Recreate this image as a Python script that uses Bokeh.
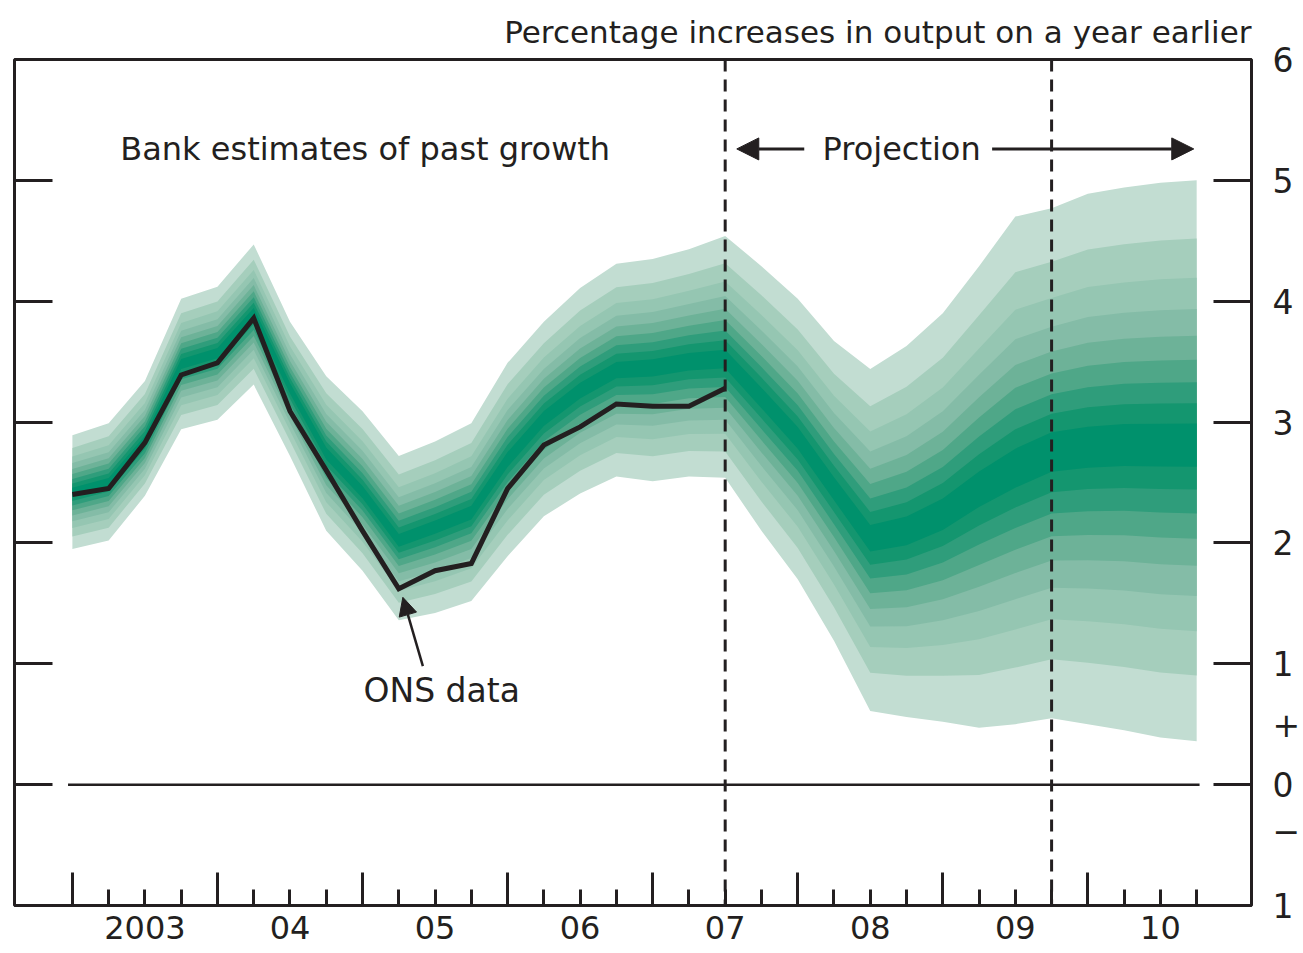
from bokeh.plotting import figure
from bokeh.models import (Range1d, LinearAxis, FixedTicker, Span, Label, Arrow,
                          NormalHead)
from bokeh.embed import file_html
from bokeh.resources import INLINE

# ---------------- data ----------------
quarters = ["2003 Q1", "2003 Q2", "2003 Q3", "2003 Q4",
            "2004 Q1", "2004 Q2", "2004 Q3", "2004 Q4",
            "2005 Q1", "2005 Q2", "2005 Q3", "2005 Q4",
            "2006 Q1", "2006 Q2", "2006 Q3", "2006 Q4",
            "2007 Q1", "2007 Q2", "2007 Q3", "2007 Q4",
            "2008 Q1", "2008 Q2", "2008 Q3", "2008 Q4",
            "2009 Q1", "2009 Q2", "2009 Q3", "2009 Q4",
            "2010 Q1", "2010 Q2", "2010 Q3", "2010 Q4"]

# ONS data (first 19 quarters)
ons_growth = [2.40, 2.45, 2.83, 3.39, 3.49, 3.86, 3.09, 2.60, 2.10, 1.62,
              1.77, 1.83, 2.45, 2.81, 2.96, 3.15, 3.13, 3.13, 3.28]

# Fan chart: central value and outer (90%) band edges
fan_centre = [2.42, 2.50, 2.85, 3.48, 3.57, 3.90, 3.28, 2.74, 2.42, 2.02,
              2.13, 2.25, 2.69, 3.03, 3.26, 3.43, 3.45, 3.50, 3.52,
              3.20, 2.87, 2.45, 2.04, 2.10, 2.24, 2.45, 2.62, 2.76,
              2.80, 2.82, 2.82, 2.82]
fan_upper = [2.89, 2.99, 3.34, 4.02, 4.12, 4.47, 3.83, 3.38, 3.09, 2.72,
             2.84, 2.99, 3.49, 3.83, 4.11, 4.31, 4.35, 4.43, 4.54,
             4.29, 4.02, 3.67, 3.44, 3.63, 3.90, 4.29, 4.70, 4.77,
             4.89, 4.94, 4.98, 5.00]
fan_lower = [1.95, 2.02, 2.39, 2.94, 3.02, 3.31, 2.72, 2.10, 1.77, 1.36,
             1.42, 1.52, 1.89, 2.22, 2.41, 2.55, 2.51, 2.55, 2.54,
             2.10, 1.70, 1.19, 0.61, 0.56, 0.52, 0.47, 0.50, 0.55,
             0.50, 0.45, 0.39, 0.36]

# relative position of each band edge (outer -> inner)
band_fractions = [1.0, 0.779, 0.630, 0.512, 0.410, 0.319, 0.234, 0.154, 0.077]
band_colors = ["#c2ddd2", "#a5cebc", "#95c6b2", "#84bca7", "#6db298",
               "#4fa788", "#2f9d7b", "#14966f", "#00916c"]

year_labels = ["2003", "04", "05", "06", "07", "08", "09", "10"]
y_ticks = [-1, 0, 1, 2, 3, 4, 5, 6]
y_tick_labels = ["1", "0", "1", "2", "3", "4", "5", "6"]
sign_positions = [0.5, -0.38]
sign_labels = ["+", "\u2212"]
projection_start = "2007 Q3"
marker_quarter = "2009 Q4"

INK = "#231f20"
FONT = "DejaVu Sans"


def qpos(q):
    y, qq = q.split(" Q")
    return int(y) + (int(qq) - 1) / 4.0


qx = [qpos(q) for q in quarters]
years = [2003 + i for i in range(len(year_labels))]

# ---------------- figure ----------------
p = figure(width=1303, height=953, output_backend="svg", toolbar_location=None,
           x_range=Range1d(2002.601, 2011.128), y_range=Range1d(-1, 6),
           x_axis_location=None, y_axis_location=None,
           min_border_left=14, min_border_top=59, min_border_right=50,
           min_border_bottom=48)
p.grid.visible = False
p.outline_line_color = INK
p.outline_line_width = 3
p.background_fill_color = "white"
p.border_fill_color = "white"

p.title.text = "Percentage increases in output on a year earlier"
p.title.align = "right"
p.title.text_font = FONT
p.title.text_font_size = "31px"
p.title.text_font_style = "normal"
p.title.text_color = INK
p.title.standoff = 20

# fan bands
for f, col in zip(band_fractions, band_colors):
    top = [c + f * (u - c) for c, u in zip(fan_centre, fan_upper)]
    bot = [c - f * (c - l) for c, l in zip(fan_centre, fan_lower)]
    p.varea(x=qx, y1=bot, y2=top, fill_color=col, fill_alpha=1.0)

# zero line
p.line([qx[0] - 0.03, qx[-1] + 0.02], [0, 0], line_color=INK, line_width=2.5)

# ONS line
p.line(qx[:len(ons_growth)], ons_growth, line_color=INK, line_width=5,
       line_join="miter")

# dashed verticals
for q in (projection_start, marker_quarter):
    p.add_layout(Span(location=qpos(q), dimension="height", line_color=INK,
                      line_width=3, line_dash="12 8"))

# ---------------- axes ----------------
blank_y = {t: "" for t in y_ticks}
tick_style = dict(major_tick_out=0, minor_tick_in=0, minor_tick_out=0,
                  axis_line_color=None, major_tick_line_width=3,
                  major_tick_line_color=INK)

left_ax = LinearAxis(ticker=FixedTicker(ticks=y_ticks), major_tick_in=38,
                     major_label_overrides=blank_y,
                     major_label_text_font_size="1px", major_label_standoff=0,
                     **tick_style)
p.add_layout(left_ax, "left")

right_ticks_ax = LinearAxis(ticker=FixedTicker(ticks=y_ticks), major_tick_in=38,
                            major_label_overrides=blank_y,
                            major_label_text_font_size="1px",
                            major_label_standoff=0, **tick_style)
p.add_layout(right_ticks_ax, "right")

rl = dict(zip(y_ticks, y_tick_labels))
rl.update(dict(zip(sign_positions, sign_labels)))
right_lab_ax = LinearAxis(ticker=FixedTicker(ticks=y_ticks + sign_positions),
                          major_label_overrides=rl,
                          major_tick_in=0, major_tick_out=0, minor_tick_in=0,
                          minor_tick_out=0, axis_line_color=None,
                          major_label_text_font=FONT,
                          major_label_text_font_size="33px",
                          major_label_text_color=INK, major_label_standoff=21)
p.add_layout(right_lab_ax, "right")

tick_ax = LinearAxis(ticker=FixedTicker(ticks=years, minor_ticks=qx),
                     major_tick_in=33, major_tick_out=0, minor_tick_in=16,
                     minor_tick_out=0, axis_line_color=None,
                     major_tick_line_width=3, minor_tick_line_width=3,
                     major_tick_line_color=INK, minor_tick_line_color=INK,
                     major_label_overrides={t: "" for t in years},
                     major_label_text_font_size="1px", major_label_standoff=0)
p.add_layout(tick_ax, "below")

mids = [y + 0.5 for y in years]
label_ax = LinearAxis(ticker=FixedTicker(ticks=mids),
                      major_label_overrides={m: t for m, t in zip(mids, year_labels)},
                      major_tick_in=0, major_tick_out=0, minor_tick_in=0,
                      minor_tick_out=0, axis_line_color=None,
                      major_label_text_font=FONT, major_label_text_font_size="32px",
                      major_label_text_color=INK, major_label_standoff=10)
p.add_layout(label_ax, "below")

# ---------------- texts ----------------
def lab(x, y, text, size="32px", align="left"):
    p.add_layout(Label(x=x, y=y, text=text, text_font=FONT, text_font_size=size,
                       text_color=INK, text_align=align, text_baseline="middle"))

lab(2003.33, 5.26, "Bank estimates of past growth")
lab(2008.716, 5.26, "Projection", align="center")
lab(2005.546, 0.78, "ONS data", size="33px", align="center")

# arrows
p.add_layout(Arrow(end=NormalHead(size=22, fill_color=INK, line_color=INK),
                   x_start=2008.045, y_start=5.26, x_end=qpos(projection_start) + 0.08,
                   y_end=5.26, line_color=INK, line_width=3))
p.add_layout(Arrow(end=NormalHead(size=22, fill_color=INK, line_color=INK),
                   x_start=2009.34, y_start=5.26, x_end=qx[-1] - 0.02,
                   y_end=5.26, line_color=INK, line_width=3))
p.add_layout(Arrow(end=NormalHead(size=18, fill_color=INK, line_color=INK),
                   x_start=2005.416, y_start=0.98, x_end=2005.278, y_end=1.55,
                   line_color=INK, line_width=2.5))

open("out.html", "w").write(file_html(p, INLINE))
